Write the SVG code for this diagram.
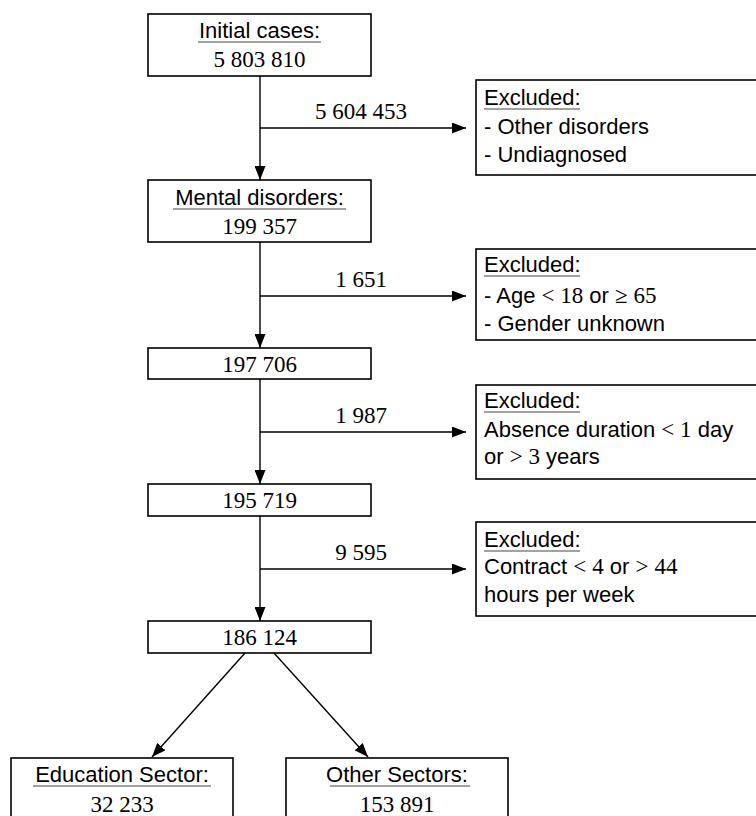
<svg xmlns="http://www.w3.org/2000/svg" width="756" height="816" viewBox="0 0 756 816">
<defs>
<marker id="arr" viewBox="0 0 14 11" refX="14" refY="5.5" markerWidth="14" markerHeight="11" markerUnits="userSpaceOnUse" orient="auto">
<path d="M0,0 L14,5.5 L0,11 z" fill="#000"/>
</marker>
<style>
.box{fill:#fff;stroke:#000;stroke-width:1.6}
.sans{font-family:"Liberation Sans",Arial,sans-serif;font-size:22px;fill:#000}
.num{font-family:"Liberation Serif","Times New Roman",serif;font-size:23px;fill:#000}
.m{font-family:"Liberation Serif","Times New Roman",serif;font-size:23px}
.ul{stroke:#444;stroke-width:1}
.c{text-anchor:middle}
.edge{stroke:#000;stroke-width:1.4;fill:none}
</style>
</defs>
<rect width="756" height="816" fill="#fff"/>

<g id="connectors">
<line class="edge" x1="260" y1="76" x2="260" y2="180" marker-end="url(#arr)"/>
<line class="edge" x1="260" y1="128" x2="466" y2="128" marker-end="url(#arr)"/>
<line class="edge" x1="260" y1="242" x2="260" y2="348" marker-end="url(#arr)"/>
<line class="edge" x1="260" y1="296" x2="466" y2="296" marker-end="url(#arr)"/>
<line class="edge" x1="260" y1="379" x2="260" y2="484" marker-end="url(#arr)"/>
<line class="edge" x1="260" y1="432" x2="466" y2="432" marker-end="url(#arr)"/>
<line class="edge" x1="260" y1="516" x2="260" y2="621" marker-end="url(#arr)"/>
<line class="edge" x1="260" y1="569" x2="466" y2="569" marker-end="url(#arr)"/>
<line class="edge" x1="245" y1="653" x2="152" y2="757" marker-end="url(#arr)"/>
<line class="edge" x1="274" y1="653" x2="368" y2="757" marker-end="url(#arr)"/>
<text class="num c" x="361" y="119">5 604 453</text>
<text class="num c" x="361" y="287">1 651</text>
<text class="num c" x="361" y="423">1 987</text>
<text class="num c" x="361" y="560">9 595</text>
</g>

<g id="initial">
<rect class="box" x="148" y="14" width="223" height="62"/>
<text class="sans c" x="259.5" y="38">Initial cases:</text>
<line class="ul" x1="198" y1="42" x2="321" y2="42"/>
<text class="num c" x="259.5" y="67">5 803 810</text>
</g>

<g id="excluded1">
<rect class="box" x="476" y="80" width="300" height="95"/>
<text class="sans" x="484" y="105">Excluded:</text>
<line class="ul" x1="484" y1="109" x2="580" y2="109"/>
<text class="sans" x="484" y="134">- Other disorders</text>
<text class="sans" x="484" y="162">- Undiagnosed</text>
</g>

<g id="mental">
<rect class="box" x="148" y="180" width="223" height="62"/>
<text class="sans c" x="259.5" y="205">Mental disorders:</text>
<line class="ul" x1="173" y1="209" x2="346" y2="209"/>
<text class="num c" x="259.5" y="234">199 357</text>
</g>

<g id="excluded2">
<rect class="box" x="476" y="249" width="300" height="91"/>
<text class="sans" x="484" y="272">Excluded:</text>
<line class="ul" x1="484" y1="276" x2="580" y2="276"/>
<text class="sans" x="484" y="303">- Age <tspan class="m">&lt; 18</tspan> or <tspan class="m">≥ 65</tspan></text>
<text class="sans" x="484" y="331">- Gender unknown</text>
</g>

<g id="n197706">
<rect class="box" x="148" y="348" width="223" height="31"/>
<text class="num c" x="259.5" y="372">197 706</text>
</g>

<g id="excluded3">
<rect class="box" x="476" y="385" width="300" height="94"/>
<text class="sans" x="484" y="408">Excluded:</text>
<line class="ul" x1="484" y1="412" x2="580" y2="412"/>
<text class="sans" x="484" y="437">Absence duration <tspan class="m">&lt; 1</tspan> day</text>
<text class="sans" x="484" y="464">or <tspan class="m">&gt; 3</tspan> years</text>
</g>

<g id="n195719">
<rect class="box" x="148" y="484" width="223" height="32"/>
<text class="num c" x="259.5" y="508">195 719</text>
</g>

<g id="excluded4">
<rect class="box" x="476" y="522" width="300" height="94"/>
<text class="sans" x="484" y="547">Excluded:</text>
<line class="ul" x1="484" y1="551" x2="580" y2="551"/>
<text class="sans" x="484" y="574">Contract <tspan class="m">&lt;</tspan><tspan class="m" dx="6">4</tspan> or <tspan class="m">&gt;</tspan><tspan class="m" dx="6">44</tspan></text>
<text class="sans" x="484" y="602">hours per week</text>
</g>

<g id="n186124">
<rect class="box" x="148" y="621" width="223" height="32"/>
<text class="num c" x="259.5" y="645">186 124</text>
</g>

<g id="education">
<rect class="box" x="11" y="758" width="222" height="70"/>
<text class="sans c" x="122" y="782">Education Sector:</text>
<line class="ul" x1="33" y1="786" x2="211" y2="786"/>
<text class="num c" x="122" y="812">32 233</text>
</g>

<g id="other">
<rect class="box" x="286" y="758" width="222" height="70"/>
<text class="sans c" x="397" y="782">Other Sectors:</text>
<line class="ul" x1="330" y1="786" x2="470" y2="786"/>
<text class="num c" x="397" y="812">153 891</text>
</g>
</svg>
